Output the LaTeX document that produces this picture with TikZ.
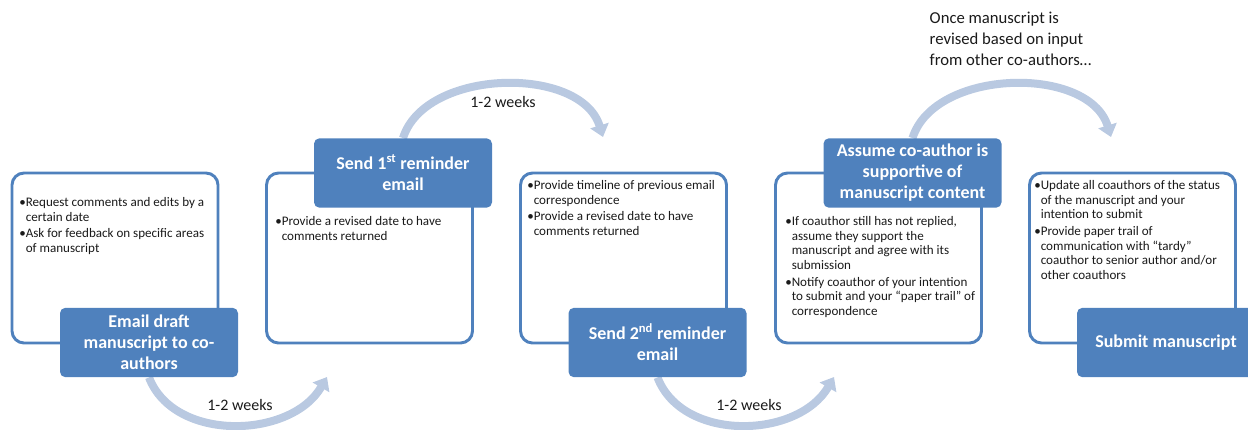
\documentclass[tikz,border=0pt]{standalone}
\usepackage{fontspec}
\setmainfont{Carlito}
\usetikzlibrary{arrows.meta,backgrounds}
\definecolor{fpBlue}{HTML}{4F81BD}
\definecolor{fpArc}{HTML}{B9C9E1}
\definecolor{fpInk}{HTML}{1A1A1A}
\tikzset{
 panelbox/.style={draw=fpBlue,line width=2.2pt,fill=white,rounded corners=9pt,
   minimum width=154.5pt,minimum height=127.5pt,inner sep=0pt},
 headbox/.style={fill=fpBlue,rounded corners=4pt,text=white,align=center,
   font=\fontsize{13.5}{15.75}\selectfont\bfseries,minimum width=133.5pt,minimum height=52pt,inner sep=2pt},
 bodytext/.style={anchor=north west,inner sep=0pt,text=fpInk,font=\fontsize{9.8}{11}\selectfont},
 gaptext/.style={text=fpInk,font=\fontsize{12}{14}\selectfont},
 notetext/.style={anchor=west,align=left,text=fpInk,font=\fontsize{12.5}{15.75}\selectfont},
 waitarc/.style={draw=fpArc,line width=6pt,-{Triangle[length=9pt,width=14pt]}}
}

\begin{document}
\begin{tikzpicture}[x=.75pt,y=-.75pt]
 \path[use as bounding box] (0,0) rectangle (1248,429);
 \clip (0,0) rectangle (1248,429);
 % outline panels
 \node[panelbox] (p1) at (115,258) {};
 \node[panelbox] (p2) at (369.5,258) {};
 \node[panelbox] (p3) at (623.5,258) {};
 \node[panelbox] (p4) at (878.5,258) {};
 \node[panelbox] (p5) at (1132.5,258) {};
 % step headings
 \node[headbox] (h1) at (149,342.5) {Email draft\\manuscript to co-\\authors};
 \node[headbox] (h2) at (403,173) {Send 1\textsuperscript{st} reminder\\email};
 \node[headbox] (h3) at (657.5,342.5) {Send 2\textsuperscript{nd} reminder\\email};
 \node[headbox] (h4) at (912.5,173) {Assume co-author is\\supportive of\\manuscript content};
 \node[headbox] (h5) at (1166,342.5) {Submit manuscript};
 % bullet texts
 \node[bodytext] (t1) at (19,196) {\begin{tabular}{@{}l@{}l@{}}
  \textbullet&Request comments and edits by a\\
  &certain date\\[1.5pt]
  \textbullet&Ask for feedback on specific areas\\
  &of manuscript
 \end{tabular}};
 \node[bodytext] (t2) at (275,215) {\begin{tabular}{@{}l@{}l@{}}
  \textbullet&Provide a revised date to have\\
  &comments returned
 \end{tabular}};
 \node[bodytext] (t3) at (527,179) {\begin{tabular}{@{}l@{}l@{}}
  \textbullet&Provide timeline of previous email\\
  &correspondence\\[1.5pt]
  \textbullet&Provide a revised date to have\\
  &comments returned
 \end{tabular}};
 \node[bodytext] (t4) at (785,215) {\begin{tabular}{@{}l@{}l@{}}
  \textbullet&If coauthor still has not replied,\\
  &assume they support the\\
  &manuscript and agree with its\\
  &submission\\[1.5pt]
  \textbullet&Notify coauthor of your intention\\
  &to submit and your “paper trail” of\\
  &correspondence
 \end{tabular}};
 \node[bodytext] (t5) at (1034,179) {\begin{tabular}{@{}l@{}l@{}}
  \textbullet&Update all coauthors of the status\\
  &of the manuscript and your\\
  &intention to submit\\[1.5pt]
  \textbullet&Provide paper trail of\\
  &communication with “tardy”\\
  &coauthor to senior author and/or\\
  &other coauthors
 \end{tabular}};
 % waiting times
 \node[gaptext] (w1) at (240,405) {1-2 weeks};
 \node[gaptext] (w2) at (503,102) {1-2 weeks};
 \node[gaptext] (w3) at (749,405) {1-2 weeks};
 \node[notetext] (n4) at (925,39) {Once manuscript is\\revised based on input\\from other co-authors…};
 % arcs between steps
 \coordinate (e1) at (327,377);
 \coordinate (e2) at (603,137);
 \coordinate (e3) at (834,377);
 \coordinate (e4) at (1111,137);
 \begin{scope}[on background layer]
  \draw[waitarc] (h1.south) .. controls +(25,65) and +(-36,62) .. (e1);
  \draw[waitarc] (h2.north) .. controls +(22,-70) and +(-22,-72) .. (e2);
  \draw[waitarc] (h3.south) .. controls +(25,65) and +(-36,62) .. (e3);
  \draw[waitarc] (h4.north) .. controls +(22,-70) and +(-22,-72) .. (e4);
 \end{scope}
\end{tikzpicture}
\end{document}
